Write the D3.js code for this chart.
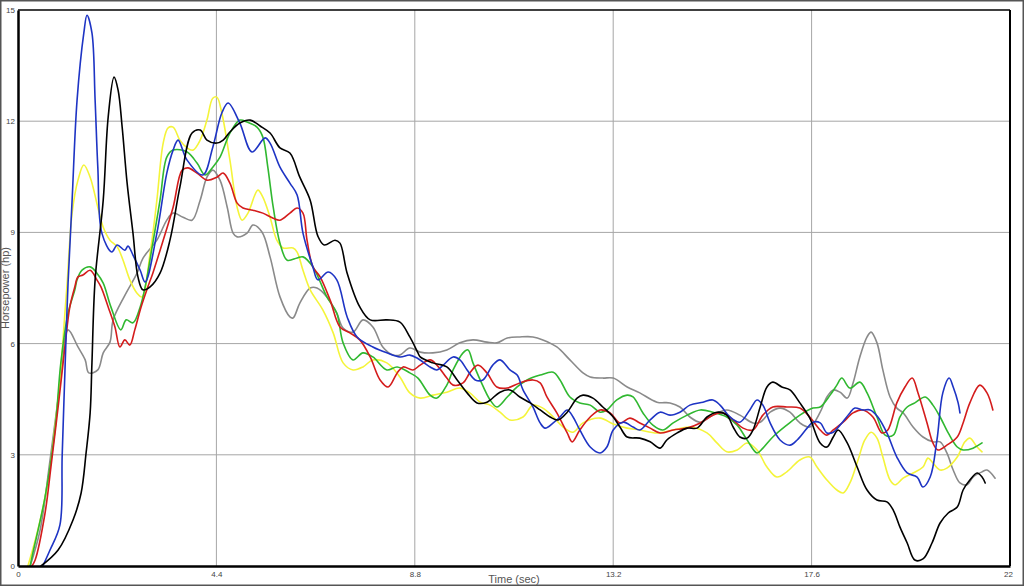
<!DOCTYPE html>
<html><head><meta charset="utf-8">
<script src="https://cdn.jsdelivr.net/npm/d3@7"></script>
<style>
html,body{margin:0;padding:0;background:#fff;}
svg{display:block;}
</style></head>
<body>
<svg id="chart" width="1024" height="586"></svg>
<script>
// ---- data (time in sec, power in hp) ----
const xTicks = [0, 4.4, 8.8, 13.2, 17.6, 22];
const yTicks = [0, 3, 6, 9, 12, 15];
const xTitle = "Time (sec)";
const yTitle = "Horsepower (hp)";

const grayRun = [[0.27,0],[0.49,0.97],[0.71,2.85],[0.93,4.88],[1.11,6.37],[1.33,5.91],[1.49,5.56],[1.57,5.21],[1.77,5.29],[1.89,5.75],[2.04,6.04],[2.11,6.64],[2.37,7.3],[2.64,7.9],[2.77,8.3],[3.08,8.79],[3.30,9.33],[3.44,9.52],[3.66,9.41],[3.86,9.33],[4.04,9.87],[4.19,10.49],[4.32,10.68],[4.48,10.41],[4.64,9.68],[4.77,8.98],[4.86,8.88],[5.08,8.98],[5.21,9.20],[5.41,9.01],[5.59,8.34],[5.81,7.26],[6.03,6.72],[6.10,6.69],[6.25,7.09],[6.48,7.50],[6.63,7.50],[6.85,7.26],[7.07,6.82],[7.21,6.42],[7.43,6.31],[7.65,6.64],[7.87,6.45],[8.09,5.91],[8.32,5.69],[8.47,5.69],[8.69,5.88],[8.92,5.77],[9.20,5.75],[9.51,5.83],[9.80,6.02],[10.09,6.10],[10.40,6.04],[10.62,6.02],[10.85,6.15],[11.13,6.18],[11.42,6.18],[11.64,6.10],[11.95,5.91],[12.24,5.56],[12.53,5.21],[12.69,5.10],[12.97,5.07],[13.20,5.07],[13.51,4.83],[13.79,4.67],[14.17,4.42],[14.46,4.40],[14.68,4.29],[14.90,4.02],[15.13,3.88],[15.41,4.07],[15.72,4.21],[16.01,4.07],[16.30,3.86],[16.46,3.88],[16.68,4.15],[16.90,4.26],[17.12,4.15],[17.34,3.86],[17.56,3.75],[17.79,4.15],[17.94,4.56],[18.08,4.75],[18.23,4.69],[18.39,4.53],[18.52,4.94],[18.67,5.64],[18.83,6.18],[18.92,6.31],[19.05,6.02],[19.18,5.29],[19.34,4.56],[19.49,4.26],[19.63,4.13],[19.85,3.75],[20.07,3.48],[20.29,3.35],[20.45,3.35],[20.60,3.05],[20.74,2.59],[20.89,2.24],[21.05,2.19],[21.18,2.40],[21.38,2.54],[21.49,2.59],[21.67,2.37]];

const yellowRun = [[0.22,0],[0.44,0.97],[0.67,2.32],[0.82,3.75],[0.93,5.02],[1.04,6.82],[1.09,7.63],[1.20,9.52],[1.33,10.41],[1.46,10.82],[1.60,10.49],[1.77,9.68],[1.89,9.14],[2.04,8.79],[2.20,8.61],[2.33,8.25],[2.48,7.72],[2.64,7.36],[2.75,7.26],[2.93,8.44],[3.08,9.87],[3.22,11.41],[3.33,11.82],[3.44,11.84],[3.59,11.49],[3.75,11.28],[3.88,11.22],[4.04,11.49],[4.19,12.03],[4.32,12.62],[4.41,12.65],[4.52,12.22],[4.70,10.95],[4.86,9.68],[4.97,9.33],[5.10,9.52],[5.32,10.14],[5.43,9.95],[5.59,9.41],[5.74,8.79],[5.88,8.58],[6.10,8.58],[6.19,8.47],[6.32,7.98],[6.48,7.45],[6.76,6.91],[6.99,6.29],[7.21,5.48],[7.43,5.29],[7.65,5.37],[7.87,5.56],[8.18,5.48],[8.47,5.10],[8.69,4.67],[8.92,4.53],[9.20,4.61],[9.51,4.69],[9.80,4.80],[10.02,4.67],[10.25,4.42],[10.47,4.34],[10.69,4.15],[10.91,3.94],[11.20,4.02],[11.42,4.34],[11.64,4.26],[11.87,4.02],[12.09,3.75],[12.31,3.61],[12.53,3.86],[12.91,3.99],[13.20,3.83],[13.51,3.72],[13.79,3.67],[14.17,3.59],[14.53,3.67],[14.90,3.75],[15.28,3.59],[15.50,3.32],[15.72,3.08],[15.95,3.13],[16.17,3.32],[16.39,3.13],[16.61,2.67],[16.83,2.40],[17.05,2.54],[17.34,2.86],[17.56,2.94],[17.72,2.67],[17.94,2.32],[18.16,2.05],[18.30,1.97],[18.45,2.24],[18.63,2.86],[18.78,3.40],[18.92,3.61],[19.05,3.45],[19.18,2.94],[19.34,2.32],[19.45,2.19],[19.63,2.37],[19.85,2.51],[20.07,2.67],[20.18,2.91],[20.29,2.78],[20.45,2.59],[20.60,2.64],[20.83,2.94],[21.00,3.35],[21.11,3.45],[21.27,3.21],[21.38,3.08]];

const greenRun = [[0.27,0],[0.33,0.35],[0.60,1.86],[0.82,3.67],[0.95,5.48],[1.11,6.82],[1.26,7.45],[1.31,7.72],[1.42,7.98],[1.60,8.07],[1.75,7.90],[1.89,7.63],[2.06,6.99],[2.28,6.37],[2.40,6.64],[2.55,6.56],[2.71,6.99],[2.82,7.53],[2.99,8.71],[3.15,9.87],[3.30,11.03],[3.44,11.22],[3.75,11.17],[3.97,10.87],[4.15,10.55],[4.32,10.76],[4.48,11.03],[4.70,11.68],[4.92,12.03],[5.08,11.98],[5.30,11.84],[5.43,11.57],[5.54,10.76],[5.66,9.68],[5.81,8.71],[5.97,8.25],[6.19,8.31],[6.32,8.34],[6.54,8.07],[6.85,7.26],[7.07,6.82],[7.21,6.02],[7.43,5.56],[7.65,5.75],[7.87,5.64],[8.18,5.29],[8.41,5.37],[8.69,5.21],[8.87,5.07],[9.14,4.61],[9.29,4.53],[9.51,4.88],[9.65,5.29],[9.87,5.75],[9.98,5.83],[10.09,5.48],[10.25,5.02],[10.47,4.48],[10.62,4.29],[10.85,4.56],[11.07,4.83],[11.29,5.02],[11.58,5.15],[11.87,5.23],[12.02,5.02],[12.24,4.56],[12.46,4.40],[12.69,4.34],[12.91,4.15],[13.06,4.21],[13.28,4.48],[13.51,4.61],[13.64,4.56],[13.86,4.13],[14.08,3.80],[14.30,3.67],[14.53,3.86],[14.84,4.07],[15.13,4.21],[15.41,4.15],[15.72,4.02],[15.95,3.80],[16.17,3.40],[16.39,3.05],[16.52,3.18],[16.74,3.48],[17.05,3.80],[17.34,4.07],[17.63,4.26],[17.79,4.29],[18.01,4.61],[18.16,4.88],[18.27,5.07],[18.45,4.80],[18.67,4.96],[18.83,4.67],[19.05,4.02],[19.23,3.53],[19.41,3.53],[19.56,4.02],[19.72,4.29],[19.89,4.40],[20.12,4.56],[20.29,4.34],[20.45,4.02],[20.63,3.59],[20.83,3.21],[20.96,3.13],[21.18,3.18],[21.38,3.32]];

const redRun = [[0.31,0],[0.38,0.16],[0.60,1.43],[0.73,2.67],[0.89,4.29],[1.04,5.91],[1.15,6.99],[1.26,7.53],[1.33,7.80],[1.44,7.85],[1.60,7.98],[1.75,7.72],[1.84,7.53],[2.00,6.99],[2.15,6.45],[2.26,5.91],[2.37,6.10],[2.48,5.96],[2.59,6.37],[2.73,6.99],[2.88,7.53],[2.99,7.90],[3.22,8.79],[3.44,9.68],[3.64,10.68],[3.77,10.74],[3.97,10.60],[4.19,10.41],[4.41,10.49],[4.55,10.60],[4.70,10.33],[4.86,9.79],[4.99,9.66],[5.21,9.60],[5.43,9.52],[5.66,9.38],[5.81,9.33],[6.03,9.52],[6.19,9.66],[6.32,9.52],[6.41,8.79],[6.54,8.07],[6.70,7.80],[6.92,7.18],[7.14,6.45],[7.36,6.29],[7.58,6.10],[7.81,5.64],[8.03,5.02],[8.21,4.83],[8.41,5.21],[8.54,5.37],[8.76,5.29],[8.92,5.42],[9.14,5.56],[9.29,5.42],[9.51,5.07],[9.65,4.88],[9.87,4.94],[10.02,5.21],[10.20,5.42],[10.40,5.21],[10.62,4.83],[10.85,4.80],[11.13,4.94],[11.42,5.02],[11.58,4.94],[11.73,4.56],[11.95,4.13],[12.18,3.59],[12.29,3.35],[12.46,3.67],[12.69,4.02],[12.91,4.21],[13.13,4.13],[13.35,3.86],[13.57,3.99],[13.79,3.86],[14.02,3.72],[14.24,3.59],[14.53,3.67],[14.84,3.72],[15.13,3.86],[15.41,4.07],[15.64,4.13],[15.86,3.94],[16.08,3.72],[16.30,3.67],[16.52,4.07],[16.74,4.29],[17.05,4.29],[17.34,4.26],[17.56,4.02],[17.79,3.67],[17.94,3.53],[18.08,3.67],[18.30,3.88],[18.52,4.13],[18.74,4.21],[18.96,4.02],[19.16,3.59],[19.29,3.67],[19.49,4.40],[19.67,4.83],[19.83,5.07],[19.96,4.67],[20.16,3.86],[20.29,3.32],[20.40,3.13],[20.60,3.26],[20.83,3.48],[20.96,3.86],[21.11,4.40],[21.33,4.88],[21.49,4.67],[21.62,4.21]];

const blueRun = [[0.55,0],[0.71,0.43],[0.93,1.11],[0.98,2.99],[1.06,5.96],[1.11,7.63],[1.20,9.87],[1.31,12.57],[1.46,14.38],[1.53,14.86],[1.64,14.38],[1.71,12.57],[1.77,10.76],[1.86,8.98],[2.08,8.47],[2.20,8.66],[2.37,8.52],[2.44,8.63],[2.55,8.39],[2.71,7.98],[2.82,7.66],[3.08,8.98],[3.30,10.60],[3.44,11.22],[3.55,11.49],[3.75,10.95],[4.10,10.55],[4.32,11.3],[4.52,12.22],[4.66,12.49],[4.92,11.95],[5.19,11.17],[5.48,11.55],[5.59,11.41],[5.81,10.76],[6.03,10.33],[6.19,10.01],[6.32,8.98],[6.54,8.07],[6.65,7.72],[6.88,7.93],[7.07,7.72],[7.30,6.72],[7.52,6.18],[7.87,5.91],[8.18,5.75],[8.47,5.64],[8.69,5.69],[8.85,5.61],[9.14,5.37],[9.29,5.29],[9.43,5.42],[9.65,5.64],[9.80,5.56],[9.96,5.29],[10.14,5.02],[10.31,5.02],[10.53,5.42],[10.69,5.56],[10.91,5.29],[11.07,5.15],[11.20,4.75],[11.42,4.29],[11.58,3.86],[11.69,3.72],[11.87,3.86],[12.02,4.02],[12.18,4.21],[12.31,4.02],[12.46,3.67],[12.69,3.21],[12.91,3.05],[13.06,3.21],[13.20,3.67],[13.42,3.88],[13.64,3.75],[13.79,3.67],[14.02,3.94],[14.24,4.15],[14.46,4.07],[14.68,4.15],[14.90,4.34],[15.19,4.42],[15.41,4.48],[15.57,4.34],[15.79,4.02],[16.01,3.88],[16.23,4.21],[16.39,4.48],[16.52,4.34],[16.68,3.86],[16.90,3.40],[17.12,3.26],[17.28,3.40],[17.50,3.72],[17.63,3.88],[17.79,3.86],[17.94,3.59],[18.08,3.61],[18.23,3.80],[18.45,4.13],[18.56,4.26],[18.74,4.21],[18.90,4.21],[19.07,4.02],[19.27,3.59],[19.49,2.94],[19.72,2.51],[19.94,2.40],[20.07,2.13],[20.23,2.40],[20.38,3.40],[20.51,4.67],[20.65,5.07],[20.74,4.83],[20.85,4.40],[20.89,4.13]];

const blackRun = [[0.51,0],[0.89,0.43],[1.22,1.24],[1.40,1.97],[1.51,3.05],[1.60,4.13],[1.64,5.48],[1.71,7.72],[1.89,9.87],[2.00,12.11],[2.13,13.19],[2.22,12.84],[2.31,11.84],[2.42,10.33],[2.55,8.98],[2.66,7.80],[2.77,7.45],[2.93,7.53],[3.15,7.90],[3.37,8.79],[3.59,10.22],[3.86,11.68],[4.04,11.76],[4.19,11.49],[4.41,11.41],[4.55,11.49],[4.70,11.71],[4.92,11.95],[5.15,12.03],[5.37,11.87],[5.59,11.68],[5.81,11.28],[6.03,11.14],[6.25,10.49],[6.48,9.87],[6.65,8.90],[6.79,8.66],[7.03,8.79],[7.14,8.71],[7.30,7.90],[7.58,6.99],[7.81,6.64],[8.18,6.64],[8.47,6.58],[8.69,6.18],[8.87,5.75],[8.92,5.64],[9.20,5.48],[9.51,5.37],[9.74,5.02],[9.96,4.67],[10.18,4.40],[10.40,4.42],[10.69,4.69],[10.91,4.75],[11.13,4.56],[11.36,4.40],[11.58,4.21],[11.80,4.02],[11.98,3.94],[12.18,4.15],[12.40,4.53],[12.53,4.61],[12.75,4.53],[12.97,4.29],[13.20,4.02],[13.35,3.75],[13.51,3.48],[13.79,3.45],[14.02,3.35],[14.24,3.18],[14.39,3.40],[14.62,3.59],[14.84,3.72],[15.06,3.72],[15.28,4.02],[15.50,4.15],[15.72,4.07],[15.86,3.75],[16.01,3.48],[16.17,3.45],[16.30,3.67],[16.46,4.29],[16.61,4.83],[16.74,4.96],[16.94,4.83],[17.12,4.75],[17.34,4.40],[17.56,3.99],[17.79,3.32],[17.94,3.21],[18.08,3.48],[18.19,3.67],[18.39,3.32],[18.61,2.67],[18.83,2.05],[19.05,1.78],[19.27,1.73],[19.41,1.51],[19.56,1.05],[19.72,0.62],[19.89,0.16],[20.07,0.19],[20.27,0.62],[20.45,1.16],[20.63,1.43],[20.83,1.59],[20.96,2.05],[21.11,2.32],[21.27,2.51],[21.38,2.40],[21.45,2.24]];

const seriesNames = ["gray", "yellow", "green", "red", "blue", "black"];
const seriesRuns = [grayRun, yellowRun, greenRun, redRun, blueRun, blackRun];
const seriesColors = ["#8a8a8a", "#f4f43a", "#30b830", "#d41c1c", "#1e34c4", "#000000"];

// ---- drawing ----
const W = 1024, H = 586;
const padL = 18, padR = 1010, padT = 10, padB = 566;
const svg = d3.select("#chart");
const x = d3.scaleLinear().domain([0, 22]).range([padL, padR]);
const y = d3.scaleLinear().domain([0, 15]).range([padB, padT]);

svg.append("rect").attr("x", 0).attr("y", 0).attr("width", W).attr("height", H).attr("fill", "#fff");

// grid
svg.append("g").selectAll("line").data(xTicks.slice(1, -1)).join("line")
  .attr("x1", d => x(d)).attr("x2", d => x(d)).attr("y1", padT).attr("y2", padB)
  .attr("stroke", "#a6a6a6").attr("stroke-width", 1);
svg.append("g").selectAll("line").data(yTicks.slice(1, -1)).join("line")
  .attr("y1", d => y(d)).attr("y2", d => y(d)).attr("x1", padL).attr("x2", padR)
  .attr("stroke", "#a6a6a6").attr("stroke-width", 1);

// series
const line = d3.line().x(d => x(d[0])).y(d => y(d[1])).curve(d3.curveCatmullRom.alpha(0.5));
svg.append("g").selectAll("path").data(seriesRuns).join("path")
  .attr("d", d => line(d)).attr("fill", "none")
  .attr("stroke", (d, i) => seriesColors[i]).attr("stroke-width", 1.6)
  .attr("stroke-linejoin", "round").attr("stroke-linecap", "round");

// frame
svg.append("line").attr("x1", padL).attr("x2", padR).attr("y1", padT).attr("y2", padT).attr("stroke", "#000").attr("stroke-width", 1.5);
svg.append("line").attr("x1", padR).attr("x2", padR).attr("y1", padT).attr("y2", padB).attr("stroke", "#000").attr("stroke-width", 2);

// axes
const xAxis = d3.axisBottom(x).tickValues(xTicks).tickSize(0).tickPadding(5).tickFormat(d => String(d));
const gx = svg.append("g").attr("transform", `translate(0,${padB})`).call(xAxis);
gx.select(".domain").attr("stroke", "#000").attr("stroke-width", 2.5);
gx.selectAll("text").attr("font-family", "Liberation Sans, Arial, sans-serif").attr("font-size", 8).attr("fill", "#444");
gx.selectAll(".tick").filter(d => d === 22).select("text").attr("dx", -2);

const yAxis = d3.axisLeft(y).tickValues(yTicks).tickSize(0).tickPadding(3).tickFormat(d => String(d));
const gy = svg.append("g").attr("transform", `translate(${padL},0)`).call(yAxis);
gy.select(".domain").attr("stroke", "#000").attr("stroke-width", 2.5);
gy.selectAll("text").attr("font-family", "Liberation Sans, Arial, sans-serif").attr("font-size", 8).attr("fill", "#444");

// titles
svg.append("text").attr("x", (padL + padR) / 2).attr("y", 583).attr("text-anchor", "middle")
  .attr("font-family", "Liberation Sans, Arial, sans-serif").attr("font-size", 11).attr("fill", "#555").text(xTitle);
svg.append("text").attr("transform", `translate(9,${(padT + padB) / 2}) rotate(-90)`).attr("text-anchor", "middle")
  .attr("font-family", "Liberation Sans, Arial, sans-serif").attr("font-size", 11).attr("fill", "#555").text(yTitle);

// outer frame
svg.append("rect").attr("x", 0.75).attr("y", 0.75).attr("width", W - 1.5).attr("height", H - 1.5)
  .attr("fill", "none").attr("stroke", "#555").attr("stroke-width", 1.5);
</script>
</body></html>
